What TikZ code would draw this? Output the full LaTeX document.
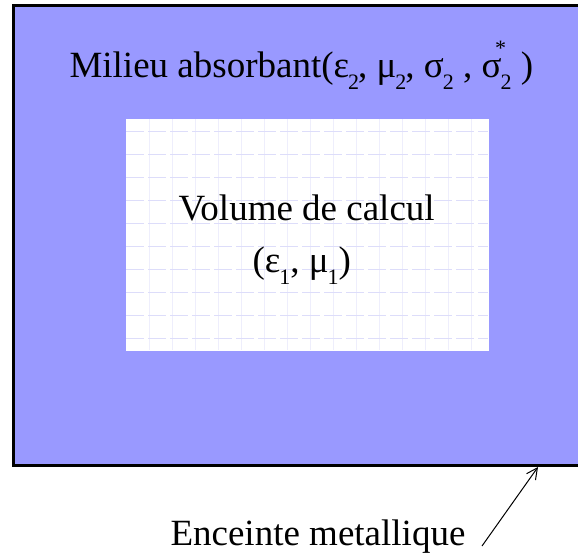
\documentclass[tikz,border=0pt]{standalone}
\usepackage{fontspec}
\setmainfont{Liberation Serif}
\usetikzlibrary{arrows.meta, positioning}
\definecolor{cmilieu}{HTML}{9999FF}
\definecolor{cgrilleh}{HTML}{DDDDFA}
\definecolor{cgrillev}{HTML}{EEEEFC}
\newcommand{\ind}[1]{\raisebox{-12pt}{\fontsize{22}{22}\selectfont #1}}
\newcommand{\etoile}{\makebox[0pt][c]{\raisebox{22pt}{\fontsize{22}{22}\selectfont *}}}
\tikzset{
  every picture/.style={x=1pt, y=-1pt, line width=1pt},
  zone/.style={draw=#1, fill=#1, inner sep=0pt},
  txt/.style={font=\fontsize{37}{40}\selectfont, inner sep=0pt, anchor=base west},
  fleche/.style={-{Straight Barb[length=11pt, width=11pt]}, line width=1pt},
}

\begin{document}
\begin{tikzpicture}
  \useasboundingbox (0,0) rectangle (578,557);
  % enceinte et milieu absorbant
  \node[zone=cmilieu, draw=black, line width=3pt, minimum width=580pt, minimum height=460pt, anchor=north west] (enceinte) at (12,4) {};
  % volume de calcul
  \node[zone=white, minimum width=362pt, minimum height=231pt, anchor=north west] (volume) at (126,119) {};
  \foreach \x in {149,172,...,480} {\draw[cgrillev] (\x,119) -- (\x,350);}
  \foreach \y in {131,154,...,345} {\draw[cgrilleh, dash pattern=on 18pt off 4pt] (126,\y) -- (488,\y);}
  \node[txt] (milieu) at (69,77) {Milieu absorbant(ε\kern-1pt\ind{2}\kern-1pt, μ\kern-1pt\ind{2}\kern-1pt, σ\kern-1pt\ind{2} , σ\kern-1pt\etoile\ind{2} )};
  \node[txt] (calcul) at (178,220) {Volume de calcul};
  \node[txt] (params) at (252,272) {(ε\kern-1pt\ind{1}, μ\kern-1pt\ind{1})};
  \node[txt] (label) at (170,545) {Enceinte metallique};
  \coordinate (queue) at (482,546);
  \coordinate (pointe) at (538,467);
  \draw[fleche] (queue) -- (pointe);
\end{tikzpicture}
\end{document}
